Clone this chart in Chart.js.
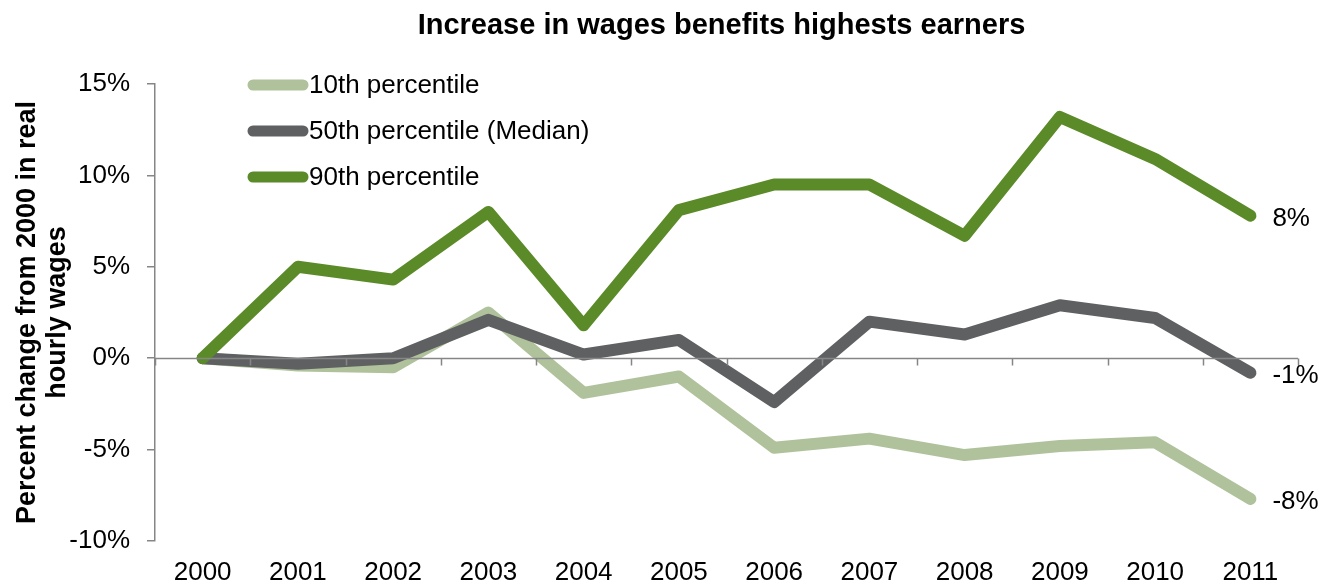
<!DOCTYPE html>
<html>
<head>
<meta charset="utf-8">
<script src="https://cdn.jsdelivr.net/npm/chart.js@4.4.1/dist/chart.umd.min.js"></script>
<style>
  html, body { margin: 0; padding: 0; background: #fff; }
  #wrap { width: 1333px; height: 581px; position: relative; }
</style>
</head>
<body>
<div id="wrap"><canvas id="wages"></canvas></div>
<script>
// ===== DATA =====
const years = ['2000', '2001', '2002', '2003', '2004', '2005', '2006', '2007', '2008', '2009', '2010', '2011'];
const p10 = [0, -0.4, -0.5, 2.5, -1.9, -1.0, -4.9, -4.4, -5.3, -4.8, -4.6, -7.7];
const p50 = [0, -0.3, 0, 2.1, 0.2, 1.0, -2.4, 2.0, 1.3, 2.9, 2.2, -0.8];
const p90 = [0, 5.0, 4.3, 8.0, 1.8, 8.1, 9.5, 9.5, 6.7, 13.2, 10.9, 7.8];
const seriesNames = ['10th percentile', '50th percentile (Median)', '90th percentile'];
const yTicks = [-10, -5, 0, 5, 10, 15];

const COLORS = ['#b0c29c', '#5f6062', '#5b8a29'];
const AXIS = '#868686';
const FONT = '"Liberation Sans", Arial, sans-serif';

// zero line with category boundary ticks, legend, title and end labels
const decorations = {
  id: 'decorations',
  afterDatasetsDraw(chart) {
    const { ctx, chartArea: ca, scales: { x, y } } = chart;
    const y0 = Math.round(y.getPixelForValue(0)) + 0.5;
    const step = x.getPixelForValue(1) - x.getPixelForValue(0);

    ctx.save();
    ctx.strokeStyle = AXIS;
    ctx.lineWidth = 1.5;
    ctx.beginPath();
    ctx.moveTo(ca.left, y0);
    ctx.lineTo(ca.right, y0);
    for (let i = 0; i <= years.length; i++) {
      const bx = Math.round(x.getPixelForValue(0) - step / 2 + i * step) + 0.5;
      ctx.moveTo(bx, y0);
      ctx.lineTo(bx, y0 + 7);
    }
    ctx.stroke();
    ctx.restore();
  },
  afterDraw(chart) {
    const { ctx, chartArea: ca, scales: { x, y } } = chart;
    ctx.save();

    // title
    ctx.fillStyle = '#000';
    ctx.font = `bold 29px ${FONT}`;
    ctx.textAlign = 'center';
    ctx.textBaseline = 'middle';
    ctx.fillText('Increase in wages benefits highests earners', (ca.left + ca.right) / 2 - 5, 26);

    // legend
    ctx.font = `26px ${FONT}`;
    ctx.textAlign = 'left';
    const rows = [85, 131, 177];
    chart.data.datasets.forEach((ds, i) => {
      ctx.strokeStyle = COLORS[i];
      ctx.lineWidth = 11;
      ctx.lineCap = 'round';
      ctx.beginPath();
      ctx.moveTo(253, rows[i]);
      ctx.lineTo(303, rows[i]);
      ctx.stroke();
      ctx.fillStyle = '#000';
      ctx.fillText(seriesNames[i], 309, rows[i] + 1);
    });

    // end-of-line value labels
    const last = years.length - 1;
    [p90, p50, p10].forEach(arr => {
      const v = arr[last];
      const px = x.getPixelForValue(last) + 22;
      const py = y.getPixelForValue(v);
      ctx.fillText(Math.round(v) + '%', px, py + 3);
    });
    ctx.restore();
  }
};

new Chart(document.getElementById('wages'), {
  type: 'line',
  data: {
    labels: years,
    datasets: [p10, p50, p90].map((d, i) => ({
      label: seriesNames[i],
      data: d,
      borderColor: COLORS[i],
      backgroundColor: COLORS[i],
      borderWidth: 12,
      borderCapStyle: 'round',
      borderJoinStyle: 'round',
      pointRadius: 0,
      tension: 0,
      fill: false,
      order: 2 - i
    }))
  },
  options: {
    responsive: true,
    maintainAspectRatio: false,
    animation: false,
    layout: { padding: { top: 84, right: 35, left: 0, bottom: 0 } },
    plugins: {
      legend: { display: false },
      tooltip: { enabled: false }
    },
    scales: {
      x: {
        offset: true,
        afterFit: s => { s.height = 40; },
        grid: { display: false, drawTicks: false },
        border: { display: false },
        ticks: { font: { family: FONT, size: 26 }, color: '#000', padding: 16, maxRotation: 0, autoSkip: false }
      },
      y: {
        min: yTicks[0],
        max: yTicks[yTicks.length - 1],
        afterFit: s => { s.width = 155; },
        afterBuildTicks: s => { s.ticks = yTicks.map(v => ({ value: v })); },
        grid: { drawOnChartArea: false, drawTicks: true, tickLength: 8, color: AXIS, lineWidth: 1.5 },
        border: { display: true, color: AXIS, width: 1.5 },
        ticks: {
          font: { family: FONT, size: 26 },
          color: '#000',
          padding: 17,
          callback: v => v + '%'
        },
        title: {
          display: true,
          text: ['Percent change from 2000 in real', 'hourly wages'],
          font: { family: FONT, size: 27, weight: 'bold', lineHeight: 1.11 },
          color: '#000',
          padding: { top: 13, bottom: 0 }
        }
      }
    }
  },
  plugins: [decorations]
});
</script>
</body>
</html>
